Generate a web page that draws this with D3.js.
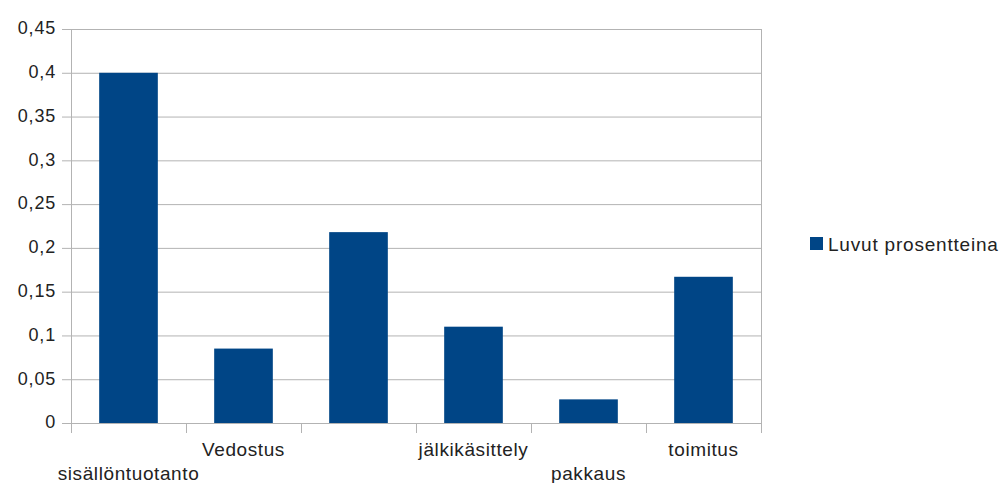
<!DOCTYPE html>
<html>
<head>
<meta charset="utf-8">
<script src="https://cdn.jsdelivr.net/npm/d3@7"></script>
<style>
  html, body { margin: 0; padding: 0; background: #ffffff; }
  svg { display: block; }
  text { font-family: "Liberation Sans", Arial, sans-serif; fill: #222; }
</style>
</head>
<body>
<svg id="chart" width="1006" height="483"></svg>
<script>
const categories = ["sisällöntuotanto", "Vedostus", "", "jälkikäsittely", "pakkaus", "toimitus"];
const values = [0.4, 0.085, 0.218, 0.11, 0.027, 0.167];
const yTicks = [0, 0.05, 0.1, 0.15, 0.2, 0.25, 0.3, 0.35, 0.4, 0.45];
const seriesName = "Luvut prosentteina";

const svg = d3.select("#chart");
const pLeft = 71, pRight = 761, pTop = 29, pBottom = 423;
const barColor = "#004586";
const gridColor = "#b3b3b3";

const x = d3.scaleBand().domain(d3.range(categories.length)).range([pLeft, pRight]).paddingInner(0.49).paddingOuter(0.245);
const xb = d3.scaleBand().domain(d3.range(categories.length)).range([pLeft, pRight]);
const y = d3.scaleLinear().domain([0, 0.45]).range([pBottom, pTop]);
const fmt = d => String(d).replace(".", ",");

// gridlines
svg.append("g").selectAll("line").data(yTicks).join("line")
  .attr("x1", pLeft - 9).attr("x2", pRight)
  .attr("y1", d => y(d) + 0.5).attr("y2", d => y(d) + 0.5)
  .attr("stroke", gridColor).attr("stroke-width", 1);

// y labels
svg.append("g").selectAll("text").data(yTicks).join("text")
  .attr("x", 56).attr("y", d => y(d) - 1)
  .attr("dy", "0.35em").attr("text-anchor", "end")
  .style("font-size", "18px").style("letter-spacing", "0.8px")
  .text(fmt);

// bars
svg.append("g").selectAll("rect").data(values).join("rect")
  .attr("x", (d, i) => x(i)).attr("width", x.bandwidth())
  .attr("y", d => y(d)).attr("height", d => y(0) - y(d))
  .attr("fill", barColor);

// axis lines
svg.append("line").attr("x1", pLeft + 0.5).attr("x2", pLeft + 0.5).attr("y1", pTop).attr("y2", pBottom + 10)
  .attr("stroke", gridColor);
svg.append("line").attr("x1", pRight + 0.5).attr("x2", pRight + 0.5).attr("y1", pTop).attr("y2", pBottom + 10)
  .attr("stroke", gridColor);
// category ticks
const tickPos = d3.range(categories.length + 1).map(i => i < categories.length ? xb(i) : pRight);
svg.append("g").selectAll("line").data(tickPos).join("line")
  .attr("x1", d => Math.round(d) + 0.5).attr("x2", d => Math.round(d) + 0.5)
  .attr("y1", pBottom).attr("y2", pBottom + 10)
  .attr("stroke", gridColor);

// category labels, staggered
svg.append("g").selectAll("text").data(categories).join("text")
  .attr("x", (d, i) => xb(i) + xb.bandwidth() / 2)
  .attr("y", (d, i) => i % 2 === 0 ? 480 : 456)
  .attr("text-anchor", "middle")
  .style("font-size", "19px").style("letter-spacing", "0.6px")
  .text(d => d);

// legend
const lg = svg.append("g").attr("transform", "translate(810,237)");
lg.append("rect").attr("width", 13).attr("height", 13).attr("fill", barColor);
lg.append("text").attr("x", 18).attr("y", 7).attr("dy", "0.35em")
  .style("font-size", "19px").style("letter-spacing", "0.8px").text(seriesName);
</script>
</body>
</html>
